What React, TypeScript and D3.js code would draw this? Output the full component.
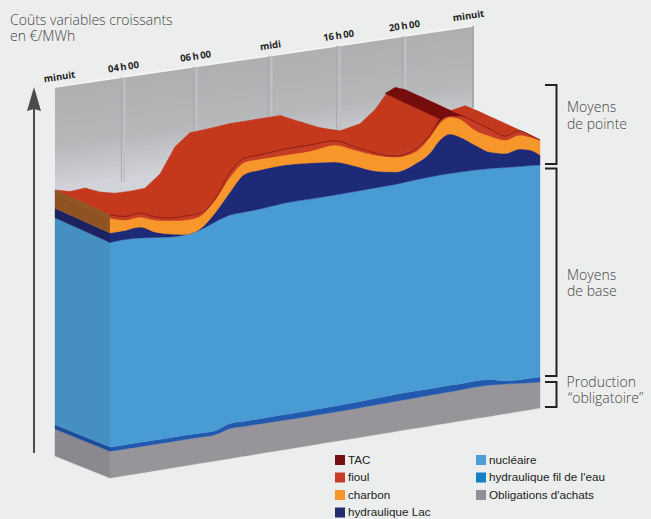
import React from "react";
import * as d3 from "d3";

// Hours of the day sampled along the front face
const hours = [0,0.84,1.67,2.51,3.35,4.19,5.02,5.86,6.7,7.53,8.37,9.77,11.16,12.56,13.67,14.79,15.91,17.02,17.86,18.42,18.98,19.53,20.37,21.21,22.05,22.88,23.44,24];
// Stacked layer thicknesses (relative units)
const obligations = [26.7,26.6,26.5,26.4,26.3,26.3,26.1,26.1,30,29.8,29.7,29.5,29.3,29.3,29.5,29.9,30.1,30.4,30.7,30.8,30.9,31.1,31.5,31.1,29.7,28,26.9,26];
const filEau = [4.3,4.3,4.3,4.3,4.2,4.2,4.1,4,5,5,5.2,5.5,5.7,6,6.2,6.5,7,7,6.5,6.5,6.5,6,6,5.5,3,3.5,4.5,5];
const nucleaire = [204.5,205.2,204.3,202.5,200.7,200.3,203.1,208.8,208.5,209.2,209.7,211.5,211.4,211.1,210.9,210.5,210,210.9,211.7,212,211.7,211.9,211.1,211,213.5,213.3,212.7,212];
const lac = [9.5,9,11,5.5,3,0.5,1,9,23,38,39,38,36,33,25.5,17,12.5,16,24,35,39.5,35,25,16.5,14,17.5,15.5,10];
const charbon = [15,10.5,10,12,13.5,14.5,13,13,15,12,11,10,12,17,16,16,15,12,16,17,17,18,15,16,13.5,14,13,15];
const fioul = [3,3.5,4,3,2.5,4,3,1,5,4,4,6,6,4,3,2,1,3,2,2,1,3,8,7,4,4,2,0];
const tac = [0,0,0,0,0,0,0,0,0,0,0,0,0,0,0,0,0,0,0,2,3,1,0,0,0,0,0,0];

const layerKeys = ["obligations","filEau","nucleaire","lac","charbon","fioul","tac"];
const layerValues = [obligations,filEau,nucleaire,lac,charbon,fioul,tac];
const frontColors = ["#98959a","#2158ad","#4a9bd4","#1f2a78","#f7962a","#c63d26","#74100f"];
const sideColors = ["#8c898e","#1d4c9c","#458fc2","#1a2360","#8f5322","#8f5322","#5a0c0c"];

const tickLabels = ["minuit","04\u2009h\u200900","06\u2009h\u200900","midi","16\u2009h\u200900","20\u2009h\u200900","minuit"];
const tickHours = [0,3.9,8.04,12.34,16.25,20.03,24];

const legendLeft = ["TAC","fioul","charbon","hydraulique Lac"];
const legendLeftColors = ["#74100f","#c63d26","#f7972b","#232d6c"];
const legendRight = ["nucléaire","hydraulique fil de l'eau","Obligations d'achats"];
const legendRightColors = ["#4d9dd8","#1580c6","#8e8f97"];

const x = d3.scaleLinear().domain([0, 24]).range([110, 540]);
const baseline = d3.scaleLinear().domain([0, 24]).range([478, 408]);
const height = d3.scaleLinear().domain([0, 263]).range([0, 263]);
const backX = d3.scaleLinear().domain([0, 24]).range([55, 473]);
const wallTop = d3.scaleLinear().domain([0, 24]).range([87, 26]);
const DX = 55;
const dy = (h: number) => 22 + (3 * h) / 263;

const rows = hours.map((h, i) => {
  const r: any = { h };
  layerKeys.forEach((k, j) => (r[k] = layerValues[j][i]));
  return r;
});
const stacked = d3.stack().keys(layerKeys)(rows);
const yAt = (h: number, v: number) => baseline(h) - height(v);

const area = d3.area<any>()
  .curve(d3.curveMonotoneX)
  .x((d) => x(d.data.h))
  .y0((d) => yAt(d.data.h, d[0]))
  .y1((d) => yAt(d.data.h, d[1]));

// Straight-edged backing under the front faces, closing the seam with the swept top
const backing = d3.area<any>()
  .x((d) => x(d.data.h))
  .y0((d) => yAt(d.data.h, d[0]))
  .y1((d) => yAt(d.data.h, d[1]));

// Swept top surface of a curve going back along the depth vector
function sweep(series: any[], keep: (i: number) => boolean) {
  let path = "";
  for (let i = 0; i < series.length - 1; i++) {
    if (!keep(i)) continue;
    const a = series[i], b = series[i + 1];
    const ax = x(a.data.h), ay = yAt(a.data.h, a[1]);
    const bx = x(b.data.h), by = yAt(b.data.h, b[1]);
    path += `M${ax},${ay}L${bx},${by}L${bx - DX},${by - dy(b[1])}L${ax - DX},${ay - dy(a[1])}Z`;
  }
  return path;
}

const Title = ({ x: tx, y, lines, gap = 16 }: any) => (
  <text y={y} fontFamily="'Open Sans', sans-serif" fontWeight={300} fontSize={14} fill="#444">
    {lines.map((l: any, i: number) => (
      <tspan key={i} x={Array.isArray(tx) ? tx[i] : tx} y={y + i * gap}>{l}</tspan>
    ))}
  </text>
);

export default function App() {
  const last = 24;
  const wallPath = `M55,87L473,26L473,130L55,215Z`;
  const fioulTop = stacked[5];
  const tacTop = stacked[6];
  const solid = fioulTop.map((d: any) => {
    const c: any = [stacked[4][fioulTop.indexOf(d)][0], d[1]];
    c.data = d.data;
    return c;
  });
  return (
    <svg width={651} height={519} style={{ position: "absolute", left: 0, top: 0, background: "#eceeed" }}>
      <defs>
        <linearGradient id="wall" gradientUnits="userSpaceOnUse" x1="55" y1="87" x2="70" y2="190">
          <stop offset="0" stopColor="#aeafb1" />
          <stop offset="0.55" stopColor="#b6b7b9" />
          <stop offset="0.97" stopColor="#d2d3da" />
        </linearGradient>
        <filter id="soft" x="-5%" y="-5%" width="110%" height="110%">
          <feGaussianBlur stdDeviation="0.7" />
        </filter>
      </defs>

      <Title x={10} y={25} lines={["Coûts variables croissants", "en €/MWh"]} />

      <g filter="url(#soft)">
        <path d={wallPath} fill="url(#wall)" />
        <line x1={backX(0)} y1={wallTop(0)} x2={backX(last)} y2={wallTop(last)} stroke="#f6f6f6" strokeWidth={1.5} />
        <line x1={473} y1={26} x2={473} y2={108} stroke="#a9aaac" strokeWidth={2} />
        {tickHours.slice(1, -1).map((h, i) => (
          <g key={i}>
            <line x1={backX(h) - 1.5} y1={wallTop(h)} x2={backX(h) - 1.5} y2={182} stroke="#a9aaad" strokeWidth={1} />
            <line x1={backX(h) + 1.5} y1={wallTop(h)} x2={backX(h) + 1.5} y2={182} stroke="#c0c1c4" strokeWidth={2} />
          </g>
        ))}

        {/* top surfaces */}
        <path d={sweep(fioulTop, () => true)} fill="#c4381f" stroke="#c4381f" strokeWidth={0.5} />
        <path d={backing(solid) as string} fill="#c4381f" />
        <path d={sweep(tacTop, (i) => tac[i] > 0 && tac[i + 1] > 0)} fill="#74100f" stroke="#74100f" strokeWidth={0.5} />

        {/* left side face */}
        {stacked.map((s: any, i: number) => {
          const p = s[0];
          const fy0 = yAt(0, p[0]), fy1 = yAt(0, p[1]);
          if (p[1] === p[0]) return null;
          return (
            <path key={i} fill={sideColors[i]} stroke={sideColors[i]} strokeWidth={0.4}
              d={`M110,${fy0}L110,${fy1}L${110 - DX},${fy1 - dy(p[1])}L${110 - DX},${fy0 - dy(p[0])}Z`} />
          );
        })}

        {/* front faces */}
        {stacked.map((s: any, i: number) => (
          <path key={i} d={area(s) as string} fill={frontColors[i]} stroke={frontColors[i]} strokeWidth={0.4} />
        ))}
      </g>

      {/* tick labels */}
      {tickLabels.map((t, i) => {
        const px = backX(tickHours[i]) + (i === 0 ? 5 : i === 6 ? -4 : 1);
        const py = wallTop(tickHours[i]) - 7;
        return (
          <text key={i} transform={`translate(${px},${py}) rotate(-8.5)`} textAnchor="middle"
            fontFamily="'Open Sans', sans-serif" fontWeight={700} fontSize={9.5} fill="#222">{t}</text>
        );
      })}

      {/* axis arrow */}
      <line x1={34} y1={453} x2={34} y2={108} stroke="#4c4c4e" strokeWidth={2} />
      <path d="M34,87L41,111L34,109L27,111Z" fill="#4c4c4e" />

      {/* brackets */}
      <g fill="none" stroke="#222" strokeWidth={2}>
        <path d="M545,85H556.5V164H545" />
        <path d="M545,168.5H556.5V376H545" />
        <path d="M545,382H556.5V407H545" />
      </g>
      <Title x={567} y={112} lines={["Moyens", "de pointe"]} gap={16.5} />
      <Title x={567} y={280} lines={["Moyens", "de base"]} />
      <Title x={[566.5, 568]} y={386.5} lines={["Production", "“obligatoire”"]} gap={16.5} />

      {/* legend */}
      {legendLeft.map((t, i) => (
        <g key={t}>
          <rect x={335} y={455 + i * 17.5} width={10} height={10} fill={legendLeftColors[i]} />
          <text x={348} y={463.5 + i * 17.5} fontFamily="'Liberation Sans', Arial, sans-serif" fontSize={11.7} fill="#222">{t}</text>
        </g>
      ))}
      {legendRight.map((t, i) => (
        <g key={t}>
          <rect x={476} y={455 + i * 17.5} width={10} height={10} fill={legendRightColors[i]} />
          <text x={489} y={463.5 + i * 17.5} fontFamily="'Liberation Sans', Arial, sans-serif" fontSize={11.7} fill="#222">{t}</text>
        </g>
      ))}
    </svg>
  );
}
